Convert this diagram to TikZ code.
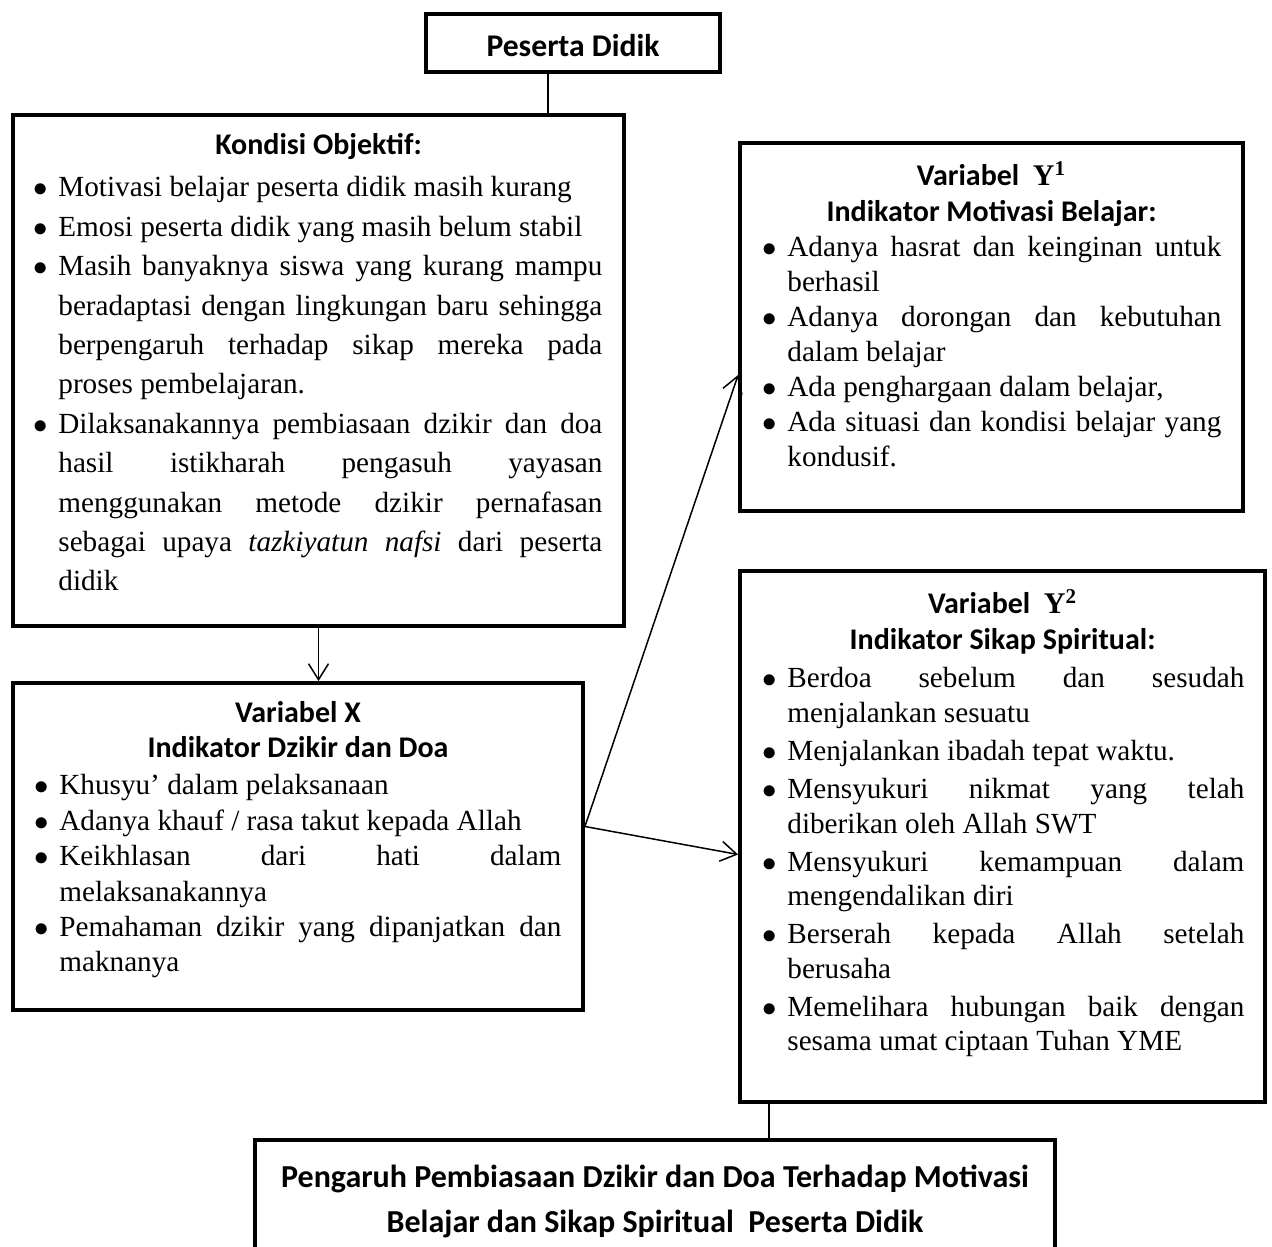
\documentclass[tikz,border=0pt]{standalone}
\usepackage{fontspec}
\setmainfont{Liberation Serif}
\newfontfamily\headfont{Carlito}
\usetikzlibrary{arrows.meta,fit,calc}
\definecolor{diagInk}{HTML}{000000}
\newenvironment{dotlist}[1][0pt]{\begin{list}{$\bullet$}{%
  \setlength{\leftmargin}{11.5pt}\setlength{\labelwidth}{7.6pt}%
  \setlength{\labelsep}{5.4pt}\setlength{\itemsep}{#1}%
  \setlength{\topsep}{0pt}\setlength{\partopsep}{0pt}\setlength{\parsep}{0pt}}}%
  {\end{list}}
\tikzset{
  frame box/.style={draw=diagInk, line width=1.9pt, inner sep=0pt},
  head text/.style={font=\headfont\bfseries\fontsize{#1}{18}\selectfont, inner sep=0pt, anchor=base},
  head text/.default=15,
  list text/.style={font=\fontsize{14.6}{#1}\selectfont, inner sep=0pt,
    anchor=base west, align=justify},
  link/.style={draw=diagInk, line width=0.75pt},
  link arrow/.style={link, -{Straight Barb[length=8pt,width=10pt]}}
}
\begin{document}
\begin{tikzpicture}[x=0.5pt,y=0.5pt]
  \useasboundingbox (0,0) rectangle (1272,1246);
  % boxes
  \node[frame box, fit={(426,1174) (720,1232)}] (peserta) {};
  \node[frame box, fit={(13,620) (624,1131)}] (kondisi) {};
  \node[frame box, fit={(13,236) (583,563)}] (varx) {};
  \node[frame box, fit={(740,735) (1243,1103)}] (motiv) {};
  \node[frame box, fit={(740,144) (1265,675)}] (spirit) {};
  \node[frame box, fit={(255,-20) (1055,106)}] (hasil) {};

  % texts
  \node[head text=15.8] (peserta-t) at (573,1189) {Peserta Didik};

  \node[head text] (kondisi-t) at (318.5,1091) {Kondisi Objektif:};
  \node[list text=19.7pt, text width=283.5pt] (kondisi-l) at (35,1088.4) {\begin{dotlist}
    \item Motivasi belajar peserta didik masih kurang
    \item Emosi peserta didik yang masih belum stabil
    \item Masih banyaknya siswa yang kurang mampu \linebreak beradaptasi dengan lingkungan baru sehingga \linebreak berpengaruh terhadap sikap mereka pada \linebreak proses pembelajaran.
    \item Dilaksanakannya pembiasaan dzikir dan doa \linebreak hasil istikharah pengasuh yayasan \linebreak menggunakan metode dzikir pernafasan \linebreak sebagai upaya \textit{tazkiyatun nafsi} dari peserta \linebreak didik
  \end{dotlist}};

  \node[head text] (varx-t) at (298,523) {Variabel X};
  \node[head text] (varx-i) at (298,488) {Indikator Dzikir dan Doa};
  \node[list text=17.7pt, text width=262.5pt] (varx-l) at (36,486.4) {\begin{dotlist}
    \item Khusyu’ dalam pelaksanaan
    \item Adanya khauf / rasa takut kepada Allah
    \item Keikhlasan dari hati dalam \linebreak melaksanakannya
    \item Pemahaman dzikir yang dipanjatkan dan \linebreak maknanya
  \end{dotlist}};

  \node[head text] (motiv-t) at (991.5,1060) {Variabel\ \ $\mathbf{Y}^{\mathbf{1}}$};
  \node[head text] (motiv-i) at (991.5,1024) {Indikator Motivasi Belajar:};
  \node[list text=17.5pt, text width=228.5pt] (motiv-l) at (764,1024) {\begin{dotlist}
    \item Adanya hasrat dan keinginan untuk \linebreak berhasil
    \item Adanya dorongan dan kebutuhan \linebreak dalam belajar
    \item Ada penghargaan dalam belajar,
    \item Ada situasi dan kondisi belajar yang \linebreak kondusif.
  \end{dotlist}};

  \node[head text] (spirit-t) at (1002.5,632) {Variabel\ \ $\mathbf{Y}^{\mathbf{2}}$};
  \node[head text] (spirit-i) at (1002.5,596) {Indikator Sikap Spiritual:};
  \node[list text=17.2pt, text width=240pt] (spirit-l) at (764,592.4) {\begin{dotlist}[1.9pt]
    \item Berdoa sebelum dan sesudah \linebreak menjalankan sesuatu
    \item Menjalankan ibadah tepat waktu.
    \item Mensyukuri nikmat yang telah \linebreak diberikan oleh Allah SWT
    \item Mensyukuri kemampuan dalam \linebreak mengendalikan diri
    \item Berserah kepada Allah setelah \linebreak berusaha
    \item Memelihara hubungan baik dengan \linebreak sesama umat ciptaan Tuhan YME
  \end{dotlist}};

  \node[head text=16] (hasil-t1) at (655,59) {Pengaruh Pembiasaan Dzikir dan Doa Terhadap Motivasi};
  \node[head text=16] (hasil-t2) at (655,14) {Belajar dan Sikap Spiritual\ \ Peserta Didik};

  % connectors
  \draw[link] ([xshift=-12.5pt]peserta.south) -- ([xshift=-12.5pt]peserta.south |- kondisi.north);
  \draw[link arrow] (kondisi.south) -- (kondisi.south |- varx.north);
  \coordinate (split) at ([yshift=10pt]varx.east);
  \draw[link arrow] (split) -- ([yshift=-24pt]motiv.west);
  \draw[link arrow] (split) -- ([yshift=-9pt]spirit.west);
  \draw[link] ([xshift=15.5pt]spirit.south west) -- ([xshift=15.5pt]spirit.south west |- hasil.north);
\end{tikzpicture}
\end{document}
